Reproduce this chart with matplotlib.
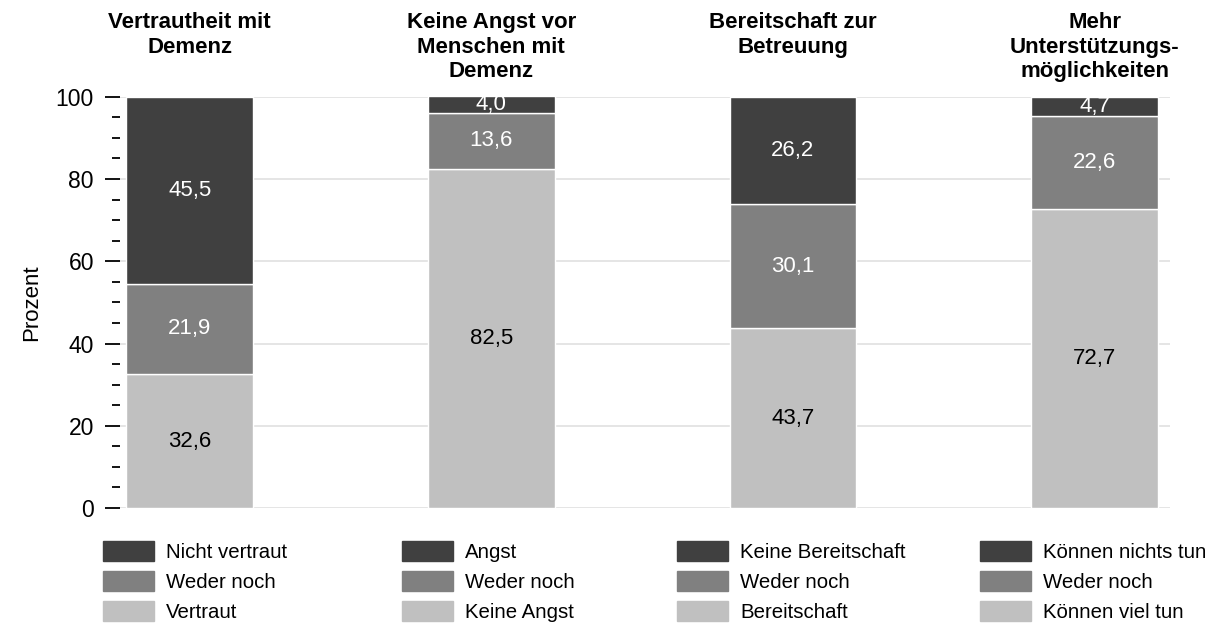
import matplotlib
matplotlib.use('Agg')
import matplotlib.pyplot as plt
from matplotlib.patches import Patch
from matplotlib.ticker import MultipleLocator
import numpy as np

############################## Data ############################################
titles = ['Vertrautheit mit\nDemenz',
          'Keine Angst vor\nMenschen mit\nDemenz',
          'Bereitschaft zur\nBetreuung',
          'Mehr\nUnterstützungs-\nmöglichkeiten']
# stacked from bottom: positive, neutral, negative
positive = [32.6, 82.5, 43.7, 72.7]
neutral = [21.9, 13.6, 30.1, 22.6]
negative = [45.5, 4.0, 26.2, 4.7]
legend_labels = [['Nicht vertraut', 'Weder noch', 'Vertraut'],
                 ['Angst', 'Weder noch', 'Keine Angst'],
                 ['Keine Bereitschaft', 'Weder noch', 'Bereitschaft'],
                 ['Können nichts tun', 'Weder noch', 'Können viel tun']]

############################## Style ###########################################
plt.rcParams['font.family'] = ['Liberation Sans', 'DejaVu Sans']
c_dark, c_mid, c_light = '#404040', '#808080', '#c0c0c0'

fig = plt.figure(figsize=(12.15, 6.28), dpi=100)
ax = fig.add_axes([0.099, 0.191, 0.864, 0.655])

x = np.arange(len(titles))
width = 0.42
bottom2 = np.array(positive) + np.array(neutral)
b1 = ax.bar(x, positive, width, color=c_light, edgecolor='white', linewidth=1, zorder=3)
b2 = ax.bar(x, neutral, width, bottom=positive, color=c_mid, edgecolor='white', linewidth=1, zorder=3)
b3 = ax.bar(x, negative, width, bottom=bottom2, color=c_dark, edgecolor='white', linewidth=1, zorder=3)

## value labels
fmt = lambda v: ('%.1f' % v).replace('.', ',')
for bars, col in [(b1, 'black'), (b2, 'white'), (b3, 'white')]:
    ax.bar_label(bars, labels=[fmt(b.get_height()) for b in bars],
                 label_type='center', color=col, fontsize=16, zorder=4)

## axes
ax.set_xlim(-0.23, 3.25)
ax.set_ylim(0, 100)
ax.yaxis.set_major_locator(MultipleLocator(20))
ax.yaxis.set_minor_locator(MultipleLocator(5))
ax.tick_params(axis='y', which='major', length=11, width=1.3, pad=8, labelsize=16.5)
ax.tick_params(axis='y', which='minor', length=6, width=1.3)
ax.set_xticks([])
for s in ax.spines.values():
    s.set_visible(False)
ax.yaxis.grid(True, which='major', color='#e0e0e0', linewidth=1.2, zorder=0)
ax.set_ylabel('Prozent', fontsize=16, labelpad=10)

## titles above bars
for xi, t in zip(x, titles):
    ax.text(xi, 1.205, t, transform=ax.get_xaxis_transform(), ha='center', va='top',
            fontsize=16, fontweight='bold', linespacing=1.2)

## one legend below each bar
anchors = [103, 402, 677, 980]
for lx, labs in zip(anchors, legend_labels):
    handles = [Patch(color=c) for c in (c_dark, c_mid, c_light)]
    leg = fig.legend(handles, labs, loc='upper left',
                     bbox_to_anchor=(lx / 1215, 1 - 541 / 628), frameon=False,
                     fontsize=14.7, handlelength=2.5, handleheight=1.1,
                     handletextpad=0.6, labelspacing=0.46, borderpad=0,
                     borderaxespad=0)

plt.savefig('out.png', dpi=100)
